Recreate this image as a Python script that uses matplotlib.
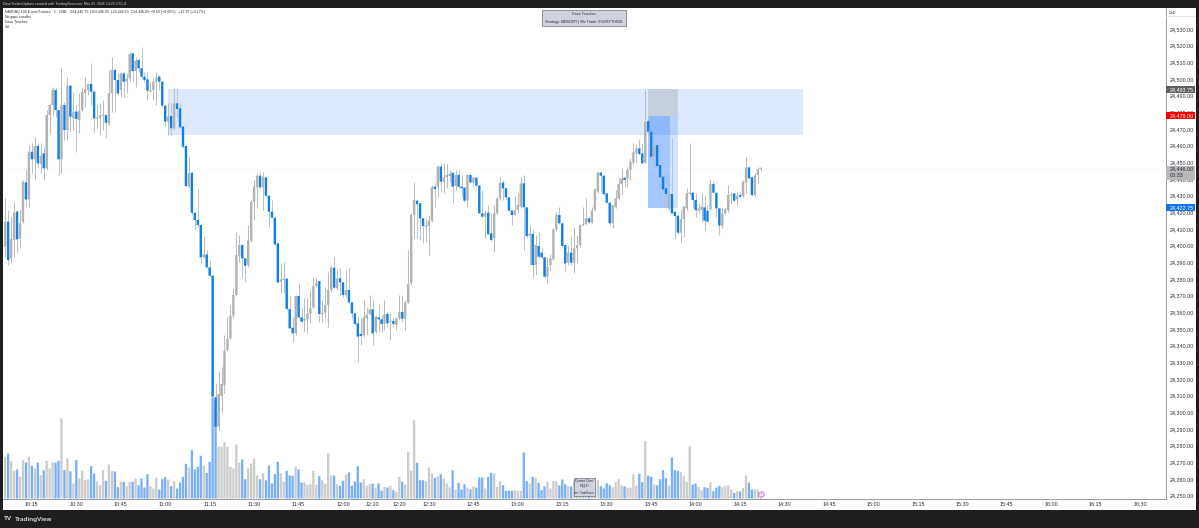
"""
NQ1! one minute chart with supply zone and volume pane, TradingView look.
"""

import matplotlib
matplotlib.use("Agg")
import matplotlib.pyplot as plt
from matplotlib.patches import Rectangle
import numpy as np

W, H = 1199, 528

# ─────────────────────────────────────────────
# DATA
# ─────────────────────────────────────────────
opens = [
    24399.4, 24414.4, 24392.4, 24403.4, 24420.4, 24404.4, 24414.4, 24438.0, 24427.8, 24456.4,
    24451.8, 24459.8, 24449.0, 24455.4, 24446.4, 24478.4, 24484.4, 24493.4, 24481.4, 24451.8,
    24484.4, 24469.4, 24496.0, 24476.4, 24480.4, 24475.4, 24481.4, 24491.8, 24493.4, 24497.0,
    24492.4, 24476.2, 24476.6, 24477.8, 24478.4, 24473.4, 24491.4, 24505.4, 24499.4, 24493.4,
    24503.4, 24498.4, 24500.4, 24515.4, 24504.8, 24511.4, 24506.4, 24501.4, 24499.8, 24492.4,
    24493.4, 24498.4, 24501.4, 24498.4, 24484.0, 24474.4, 24477.8, 24470.4, 24485.4, 24482.4,
    24471.4, 24459.8, 24435.4, 24443.8, 24419.8, 24415.4, 24412.4, 24393.0, 24394.8, 24387.0,
    24382.0, 24309.0, 24291.4, 24309.8, 24316.4, 24337.4, 24344.4, 24358.0, 24370.4, 24394.0,
    24400.4, 24392.4, 24388.4, 24403.0, 24426.4, 24435.0, 24442.0, 24435.0, 24441.0, 24430.0,
    24420.4, 24416.8, 24401.4, 24378.2, 24379.4, 24380.2, 24362.0, 24350.8, 24347.4, 24369.8,
    24357.0, 24355.0, 24355.8, 24359.4, 24363.0, 24375.8, 24378.8, 24359.0, 24359.8, 24364.4,
    24373.4, 24386.8, 24374.4, 24380.4, 24378.0, 24370.4, 24373.4, 24366.0, 24359.4, 24353.4,
    24347.0, 24346.0, 24356.4, 24359.0, 24361.8, 24348.4, 24357.0, 24355.8, 24353.4, 24359.0,
    24354.2, 24354.8, 24352.4, 24356.4, 24360.2, 24356.2, 24365.8, 24377.4, 24418.4, 24427.0,
    24425.4, 24416.4, 24411.4, 24411.8, 24415.0, 24435.4, 24435.4, 24447.4, 24438.2, 24441.0,
    24441.8, 24443.8, 24435.8, 24442.4, 24435.4, 24434.8, 24427.0, 24442.4, 24438.0, 24440.8,
    24436.0, 24419.4, 24417.4, 24419.8, 24407.4, 24404.4, 24419.4, 24428.4, 24437.8, 24434.4,
    24429.0, 24421.0, 24418.4, 24421.4, 24423.4, 24437.4, 24423.0, 24405.8, 24407.0, 24388.4,
    24399.8, 24395.8, 24393.0, 24381.4, 24388.4, 24391.8, 24409.8, 24418.4, 24413.4, 24400.4,
    24389.8, 24395.8, 24389.8, 24398.4, 24400.4, 24412.4, 24413.0, 24416.4, 24414.0, 24421.4,
    24432.4, 24443.8, 24442.0, 24431.4, 24425.8, 24413.4, 24423.0, 24428.4, 24437.0, 24440.8,
    24440.4, 24445.4, 24449.8, 24455.4, 24458.4, 24455.4, 24449.8, 24474.8, 24468.4, 24453.8,
    24460.4, 24448.4, 24441.4, 24434.4, 24422.4, 24431.0, 24420.4, 24418.0, 24407.8, 24415.8,
    24422.4, 24431.0, 24431.8, 24427.4, 24421.0, 24421.4, 24423.0, 24421.0, 24421.8, 24437.0,
    24431.8, 24422.4, 24412.0, 24419.4, 24421.4, 24429.8, 24431.4, 24427.8, 24430.4, 24429.8,
    24437.8, 24447.0, 24441.0, 24430.4, 24442.4, 24446.0,
]
highs = [
    24428.4, 24421.4, 24417.4, 24426.4, 24421.4, 24421.4, 24439.4, 24445.4, 24460.4, 24461.4,
    24465.0, 24461.4, 24461.4, 24459.4, 24481.4, 24485.4, 24495.4, 24494.4, 24481.4, 24506.4,
    24486.4, 24501.0, 24496.4, 24492.4, 24484.4, 24491.4, 24495.4, 24501.4, 24497.4, 24509.4,
    24493.4, 24484.4, 24485.4, 24487.4, 24478.4, 24505.4, 24513.4, 24506.4, 24503.4, 24504.4,
    24504.4, 24503.4, 24516.4, 24515.8, 24512.4, 24512.4, 24519.4, 24504.4, 24504.4, 24498.4,
    24500.4, 24504.4, 24502.4, 24499.0, 24484.4, 24485.4, 24485.4, 24494.4, 24494.4, 24485.4,
    24471.8, 24460.4, 24453.4, 24444.4, 24420.4, 24434.4, 24412.4, 24405.8, 24397.4, 24391.4,
    24382.4, 24317.4, 24325.0, 24327.4, 24346.4, 24357.4, 24364.4, 24374.4, 24408.4, 24406.4,
    24400.8, 24392.8, 24412.4, 24427.4, 24439.4, 24443.8, 24444.4, 24444.4, 24441.4, 24430.4,
    24427.4, 24417.0, 24401.6, 24389.4, 24390.4, 24380.4, 24370.4, 24357.4, 24370.4, 24377.4,
    24362.4, 24368.4, 24368.4, 24373.4, 24381.4, 24380.4, 24379.0, 24367.4, 24375.4, 24384.4,
    24388.4, 24393.0, 24385.4, 24386.4, 24378.4, 24385.4, 24386.4, 24366.4, 24359.4, 24357.4,
    24356.4, 24367.4, 24363.4, 24370.4, 24367.4, 24358.4, 24365.0, 24358.4, 24367.4, 24360.4,
    24359.4, 24357.4, 24357.4, 24370.4, 24370.4, 24367.4, 24397.4, 24419.4, 24438.4, 24427.4,
    24426.4, 24416.4, 24416.4, 24418.4, 24436.4, 24437.4, 24448.4, 24449.4, 24449.4, 24449.0,
    24445.4, 24444.4, 24445.4, 24445.4, 24442.4, 24435.0, 24443.0, 24443.0, 24441.4, 24441.0,
    24436.4, 24433.4, 24421.4, 24424.4, 24419.4, 24424.4, 24429.0, 24441.4, 24439.4, 24435.0,
    24429.4, 24421.4, 24429.8, 24432.4, 24441.4, 24442.4, 24423.4, 24412.4, 24409.4, 24406.4,
    24408.4, 24399.4, 24393.4, 24393.4, 24395.0, 24410.4, 24420.4, 24423.0, 24413.8, 24400.8,
    24400.4, 24405.4, 24411.4, 24406.4, 24413.0, 24423.0, 24428.4, 24417.4, 24423.4, 24434.4,
    24445.0, 24445.0, 24442.4, 24431.8, 24426.4, 24424.4, 24433.4, 24440.4, 24446.4, 24441.4,
    24447.0, 24452.4, 24461.4, 24460.4, 24463.8, 24461.4, 24493.4, 24478.4, 24469.0, 24465.4,
    24461.0, 24448.4, 24441.8, 24435.0, 24431.4, 24464.4, 24420.4, 24418.4, 24421.4, 24423.8,
    24434.4, 24461.8, 24432.4, 24431.4, 24425.4, 24431.4, 24430.4, 24424.4, 24439.8, 24439.0,
    24432.4, 24422.4, 24422.4, 24423.0, 24436.4, 24432.4, 24431.8, 24432.4, 24432.4, 24439.4,
    24453.0, 24447.4, 24441.4, 24443.4, 24447.0, 24447.4,
]
lows = [
    24393.4, 24388.4, 24389.4, 24393.4, 24395.4, 24399.4, 24413.4, 24423.4, 24423.4, 24443.4,
    24439.4, 24446.4, 24443.4, 24439.4, 24445.4, 24467.4, 24478.4, 24477.4, 24442.4, 24443.4,
    24463.4, 24463.4, 24468.4, 24469.4, 24456.4, 24467.4, 24480.4, 24483.4, 24490.4, 24484.4,
    24467.4, 24470.4, 24466.4, 24469.4, 24464.4, 24472.4, 24480.4, 24480.4, 24490.4, 24489.4,
    24489.4, 24491.4, 24498.4, 24498.4, 24495.4, 24504.4, 24500.4, 24498.4, 24487.4, 24492.4,
    24487.4, 24484.4, 24493.4, 24483.4, 24471.4, 24466.4, 24466.4, 24469.4, 24477.4, 24470.4,
    24458.4, 24435.4, 24434.4, 24418.4, 24409.4, 24411.4, 24389.4, 24392.4, 24386.4, 24381.4,
    24309.0, 24286.4, 24289.4, 24299.4, 24311.4, 24337.0, 24344.0, 24356.4, 24370.0, 24390.4,
    24380.4, 24378.4, 24387.4, 24402.4, 24415.4, 24422.4, 24434.4, 24421.4, 24429.4, 24411.4,
    24416.4, 24400.4, 24377.8, 24371.4, 24371.4, 24361.4, 24350.4, 24342.4, 24346.4, 24356.4,
    24353.4, 24348.4, 24347.4, 24353.4, 24362.4, 24375.4, 24354.4, 24354.4, 24357.4, 24351.4,
    24372.4, 24374.4, 24373.4, 24370.4, 24369.4, 24369.4, 24365.4, 24356.4, 24352.4, 24330.4,
    24340.4, 24345.4, 24346.4, 24358.4, 24340.4, 24347.4, 24348.4, 24348.4, 24349.4, 24351.4,
    24343.4, 24351.4, 24349.4, 24355.4, 24354.4, 24349.4, 24365.4, 24376.4, 24404.4, 24404.4,
    24403.4, 24401.4, 24402.4, 24394.4, 24414.4, 24423.4, 24429.4, 24432.4, 24431.4, 24434.4,
    24438.4, 24425.8, 24433.4, 24434.4, 24429.4, 24426.4, 24423.0, 24437.4, 24435.4, 24435.4,
    24419.4, 24416.4, 24404.4, 24406.4, 24403.0, 24396.4, 24418.4, 24427.4, 24427.4, 24427.4,
    24420.4, 24412.4, 24418.4, 24419.4, 24422.4, 24397.4, 24404.4, 24388.4, 24381.4, 24382.4,
    24392.4, 24392.4, 24380.4, 24377.4, 24385.4, 24391.4, 24409.0, 24413.0, 24399.0, 24384.4,
    24388.4, 24388.4, 24383.4, 24389.4, 24399.4, 24411.8, 24412.4, 24413.4, 24413.4, 24421.0,
    24431.4, 24432.4, 24430.4, 24425.4, 24412.4, 24410.4, 24422.4, 24427.4, 24430.4, 24435.4,
    24435.4, 24439.4, 24448.4, 24449.4, 24454.4, 24449.4, 24449.4, 24468.4, 24453.0, 24452.4,
    24447.4, 24440.4, 24433.4, 24430.4, 24421.4, 24419.0, 24403.8, 24407.0, 24402.4, 24405.4,
    24421.4, 24430.4, 24422.4, 24417.4, 24419.4, 24414.4, 24409.4, 24414.4, 24421.4, 24431.4,
    24417.4, 24406.4, 24410.4, 24418.4, 24420.4, 24425.4, 24426.4, 24424.4, 24428.4, 24429.0,
    24431.4, 24439.8, 24429.8, 24429.4, 24437.4, 24445.0,
]
closes = [
    24414.4, 24391.4, 24404.0, 24419.8, 24403.8, 24413.4, 24438.4, 24427.8, 24456.4, 24451.8,
    24459.8, 24449.4, 24453.8, 24446.4, 24478.4, 24484.4, 24493.8, 24481.4, 24451.8, 24484.4,
    24469.4, 24496.0, 24477.4, 24480.4, 24476.0, 24480.8, 24492.4, 24493.8, 24497.0, 24492.4,
    24476.4, 24477.0, 24478.2, 24478.4, 24473.8, 24491.4, 24505.4, 24499.4, 24491.4, 24503.4,
    24498.4, 24500.4, 24515.0, 24504.8, 24510.8, 24506.4, 24501.4, 24499.4, 24493.0, 24493.4,
    24498.4, 24501.0, 24498.4, 24484.0, 24474.4, 24477.4, 24470.4, 24485.4, 24482.0, 24471.0,
    24459.4, 24435.8, 24443.4, 24419.8, 24415.4, 24412.4, 24393.0, 24394.8, 24387.0, 24382.0,
    24309.4, 24291.4, 24311.0, 24317.0, 24337.0, 24344.0, 24358.0, 24370.4, 24394.4, 24400.4,
    24392.4, 24388.0, 24403.0, 24426.4, 24435.4, 24442.0, 24435.0, 24441.4, 24430.0, 24420.4,
    24416.8, 24400.8, 24378.0, 24379.8, 24380.2, 24362.0, 24350.4, 24347.4, 24369.8, 24357.0,
    24354.4, 24356.0, 24359.4, 24362.4, 24375.8, 24378.0, 24359.0, 24359.4, 24364.4, 24373.4,
    24386.8, 24374.8, 24380.4, 24378.0, 24370.4, 24373.4, 24366.0, 24359.4, 24353.0, 24345.4,
    24345.8, 24357.0, 24358.4, 24361.8, 24347.4, 24357.4, 24355.8, 24353.0, 24359.0, 24353.4,
    24355.0, 24353.0, 24356.4, 24360.2, 24356.2, 24365.8, 24377.0, 24418.4, 24427.4, 24425.0,
    24416.4, 24411.8, 24412.4, 24415.0, 24435.0, 24434.0, 24447.4, 24438.4, 24441.0, 24442.4,
    24443.0, 24435.4, 24442.4, 24435.4, 24434.4, 24427.0, 24442.4, 24438.0, 24441.0, 24436.0,
    24419.4, 24417.4, 24419.8, 24407.0, 24403.4, 24419.4, 24428.4, 24437.8, 24434.4, 24429.0,
    24421.0, 24418.4, 24421.4, 24424.4, 24437.4, 24423.0, 24405.8, 24407.4, 24388.4, 24400.4,
    24393.4, 24393.0, 24381.4, 24387.4, 24392.4, 24409.8, 24418.4, 24413.4, 24399.8, 24389.4,
    24395.8, 24389.8, 24398.4, 24400.4, 24412.4, 24413.0, 24416.4, 24414.0, 24421.0, 24433.8,
    24443.8, 24442.0, 24431.0, 24425.8, 24413.4, 24424.4, 24428.4, 24437.0, 24440.4, 24439.4,
    24445.4, 24450.4, 24456.0, 24458.4, 24455.0, 24449.4, 24474.4, 24468.4, 24453.4, 24460.4,
    24447.8, 24441.0, 24433.8, 24431.0, 24431.0, 24419.4, 24417.8, 24407.8, 24415.8, 24423.4,
    24431.4, 24431.8, 24427.4, 24421.4, 24422.4, 24423.4, 24415.0, 24414.4, 24437.0, 24431.8,
    24422.4, 24412.0, 24419.4, 24421.8, 24430.4, 24430.4, 24427.0, 24429.8, 24429.4, 24438.4,
    24447.0, 24440.4, 24430.4, 24442.0, 24445.8, 24446.0,
]
volumes = [
    417, 450, 373, 277, 290, 217, 383, 360, 417, 327,
    300, 360, 233, 283, 377, 300, 360, 360, 377, 800,
    283, 400, 273, 150, 383, 200, 277, 183, 193, 323,
    250, 167, 133, 283, 177, 340, 273, 270, 113, 167,
    167, 123, 167, 167, 200, 133, 200, 110, 243, 123,
    100, 207, 90, 193, 213, 190, 123, 173, 100, 160,
    217, 347, 310, 483, 290, 317, 427, 330, 257, 367,
    1010, 980, 520, 517, 563, 517, 317, 300, 540, 357,
    390, 193, 300, 350, 400, 233, 193, 250, 183, 330,
    150, 243, 367, 253, 170, 277, 230, 227, 317, 290,
    160, 160, 137, 143, 277, 137, 223, 183, 150, 453,
    233, 230, 143, 127, 177, 237, 260, 127, 170, 323,
    160, 193, 127, 143, 150, 103, 150, 77, 117, 110,
    127, 83, 67, 217, 167, 140, 467, 277, 783, 357,
    183, 183, 173, 310, 250, 207, 223, 243, 200, 150,
    110, 283, 90, 157, 90, 143, 110, 90, 123, 110,
    210, 210, 100, 217, 257, 250, 117, 173, 133, 77,
    77, 77, 83, 77, 77, 460, 173, 150, 217, 207,
    157, 83, 123, 167, 100, 173, 170, 130, 190, 143,
    123, 120, 183, 183, 150, 117, 117, 150, 183, 150,
    183, 123, 100, 153, 133, 113, 163, 193, 133, 120,
    107, 107, 243, 130, 247, 163, 577, 227, 217, 140,
    133, 193, 283, 203, 130, 410, 283, 277, 267, 223,
    167, 520, 140, 150, 117, 83, 113, 107, 160, 73,
    110, 127, 113, 127, 130, 90, 57, 73, 70, 107,
    230, 160, 90, 90, 90, 17,
]

time_ticks = [9, 24, 39, 54, 69, 84, 99, 114, 124, 133, 143, 158, 173, 188, 203, 218, 233, 248,
              263, 278, 293, 308, 323, 338, 353, 368, 383]
time_labels = ["10:15", "10:30", "10:45", "11:00", "11:15", "11:30", "11:45", "12:00", "12:10",
               "12:20", "12:30", "12:45", "13:00", "13:15", "13:30", "13:45", "14:00", "14:15",
               "14:30", "14:45", "15:00", "15:15", "15:30", "15:45", "16:00", "16:15", "16:30"]
price_ticks = list(range(24250, 24540, 10))

zone_top, zone_bottom = 24494.0, 24466.4
zone_start, zone_end = 55, 269.3
entry_price, stop_price, target_price = 24478.0, 24493.75, 24422.75
last_price = 24446.0
box_start, box_mid, box_end = 217, 224.2, 227.1

# ─────────────────────────────────────────────
# COLOURS
# ─────────────────────────────────────────────
DARK = "#1e1e1e"
BLUE = "#0f80ea"
GREY = "#b2b2b2"
WICK = "#bdbdbd"
VOL_BLUE = "#77aff8"
VOL_GREY = "#cccccc"
AXIS = "#9a9a9a"
TEXT = "#2a2e39"
FONT = "Liberation Sans"

plt.rcParams["font.family"] = FONT

fig = plt.figure(figsize=(W / 100, H / 100), dpi=100, facecolor=DARK)


def px_rect(x0, y0, x1, y1, **kw):
    # rectangle given in screen pixels, origin top left
    r = Rectangle((x0 / W, 1 - y1 / H), (x1 - x0) / W, (y1 - y0) / H,
                  transform=fig.transFigure, **kw)
    fig.add_artist(r)
    return r


def px_text(x, y, s, **kw):
    kw.setdefault("fontsize", 2.5)
    kw.setdefault("color", TEXT)
    kw.setdefault("va", "center")
    fig.text(x / W, 1 - y / H, s, **kw)


px_rect(3, 8, 1195.7, 510, facecolor="white", edgecolor="none", zorder=-1)

# axes run over the chart area, the price scale sits to the right of it
rect = [3 / W, 1 - 498.5 / H, (1165.6 - 3) / W, (498.5 - 8) / H]
ax_vol = fig.add_axes(rect, facecolor="none", zorder=1)
ax = fig.add_axes(rect, facecolor="none", zorder=2)

idx = np.arange(len(opens))
o = np.array(opens)
h = np.array(highs)
l = np.array(lows)
c = np.array(closes)
down = c < o

# volume pane
vol_bars = ax_vol.bar(idx, volumes, width=0.78, linewidth=0,
                      color=[VOL_BLUE if d else VOL_GREY for d in down])
for bar in vol_bars:
    bar.set_snap(False)
ax_vol.set_ylim(0, 4905)
ax_vol.set_xlim(-0.74, 391.6)
ax_vol.axis("off")

# zone and trade boxes
ax.add_patch(Rectangle((zone_start, zone_bottom), zone_end - zone_start, zone_top - zone_bottom,
                       facecolor="#dbe8fd", edgecolor="none", zorder=1))
ax.add_patch(Rectangle((box_start, entry_price), box_end - box_start, zone_top - entry_price,
                       facecolor="#c6cfdd", edgecolor="none", zorder=1.1))
ax.add_patch(Rectangle((box_start, target_price), box_end - box_start, entry_price - target_price,
                       facecolor="#2979ff", alpha=0.2, edgecolor="none", zorder=1.2))
ax.add_patch(Rectangle((box_start, target_price), box_mid - box_start, entry_price - target_price,
                       facecolor="#2979ff", alpha=0.27, edgecolor="none", zorder=1.3))

ax.axhline(last_price, color="#e8e8e8", lw=0.5, ls=(0, (1, 2)), zorder=1.5)

# candles
ax.vlines(idx, l, h, colors=[WICK if not d else "#b4c6d8" for d in down], lw=0.75, zorder=2)
bodies = ax.bar(idx, np.maximum(np.abs(c - o), 0.7), bottom=np.minimum(o, c), width=0.8,
                linewidth=0, color=[BLUE if d else GREY for d in down], zorder=3)
for bar in bodies:
    bar.set_snap(False)

ax.set_xlim(-0.74, 391.6)
ax.set_ylim(24248.3, 24542.6)
ax.yaxis.tick_right()
ax.set_yticks(price_ticks, [f"{p:,.2f}" for p in price_ticks])
ax.set_xticks(time_ticks, time_labels)
ax.tick_params(axis="both", length=0, labelsize=3.9, labelcolor=TEXT)
ax.tick_params(axis="y", pad=3.2)
ax.tick_params(axis="x", pad=2.6)
for side in ["top", "left"]:
    ax.spines[side].set_visible(False)
for side in ["right", "bottom"]:
    ax.spines[side].set_color(AXIS)
    ax.spines[side].set_linewidth(0.7)


def badge(price, text, color, txt="white", up=2.1, down_by=2.1):
    ax.add_patch(Rectangle((1.0, price - down_by), 0.0257, up + down_by,
                           transform=ax.get_yaxis_transform(), clip_on=False,
                           facecolor=color, edgecolor="none", zorder=10))
    ax.text(1.0035, price, text, transform=ax.get_yaxis_transform(), fontsize=3.9, color=txt,
            va="center", ha="left", clip_on=False, zorder=11)


badge(stop_price, "24,493.75", "#5f5f5f")
badge(entry_price, "24,478.00", "#f00000")
badge(target_price, "24,422.75", "#1673ea")
badge(last_price, "24,446.00", "#b9b9b9", txt=TEXT, up=1.8, down_by=6.6)
ax.text(1.0035, last_price - 3.9, "00:33", transform=ax.get_yaxis_transform(), fontsize=3.9,
        color=TEXT, va="center", ha="left", clip_on=False, zorder=11)

# ─────────────────────────────────────────────
# TEXTS
# ─────────────────────────────────────────────
px_text(3, 4, "DaveTradesOptions created with TradingView.com, Mar 25, 2026 14:22 UTC-4",
        color="#d0d0d0")
px_text(5.3, 12, "NASDAQ 100 E-mini Futures · 1 · CME   O24,445.75  H24,446.00  "
        "L24,444.50  C24,446.00  −0.50 (−0.00%)   +42.25 (+0.17%)")
px_text(5.3, 17, "No gaps candles")
px_text(5.3, 22, "Dave Teaches")
px_text(5.3, 27, "Vol")
px_text(1169, 13, "USD")
px_rect(1166, 16.5, 1195, 16.9, facecolor="#e6e6e6", edgecolor="none", zorder=3)

px_rect(542, 10.5, 626, 26, facecolor="#d0d3de", edgecolor="#80838c", lw=0.6, zorder=3)
px_text(584, 14.3, "Dave Teaches", ha="center", fontsize=2.7, zorder=4)
px_text(584, 22, "Strategy: MEMORY | We Trade: EVERYTHING", ha="center", fontsize=2.7, zorder=4)

px_rect(573.5, 477.5, 595, 496, facecolor="#d0d3de", edgecolor="#80838c", lw=0.6, zorder=3)
px_text(584.2, 480.5, "Current Chart", ha="center", fontsize=2.2, zorder=4)
px_text(584.2, 486.5, "NQ1!", ha="center", fontsize=3, zorder=4)
px_text(584.2, 492.5, "Ice: TradeRoom", ha="center", fontsize=2, zorder=4)

# alert badge at the end of the volume pane
ax_vol.scatter([255], [42], s=14, marker="o", facecolor="white", edgecolor="#c65be0", lw=0.6,
               zorder=5, clip_on=False)
ax_vol.text(255, 42, "✓", fontsize=3, color="#a03cc0", ha="center", va="center",
            family="DejaVu Sans", zorder=6)

px_text(3.5, 519, "TV", color="#e8e8e8", fontsize=4.6, fontweight="bold")
px_text(14.5, 519, "TradingView", color="#d8d8d8", fontsize=4.6, fontweight="bold")

fig.savefig("out.png", dpi=100, facecolor=DARK)
